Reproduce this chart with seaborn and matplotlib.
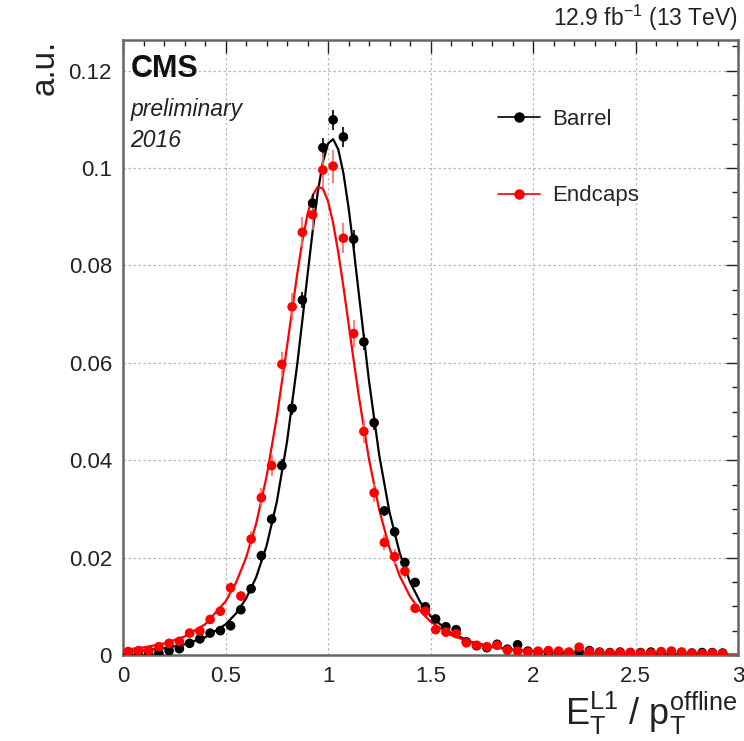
import numpy as np
import pandas as pd
import matplotlib
matplotlib.use("Agg")
import matplotlib.pyplot as plt
from matplotlib.lines import Line2D
from matplotlib.ticker import MultipleLocator
import seaborn as sns

# ---------------- data ----------------
bin_centers = [0.025, 0.075, 0.125, 0.175, 0.225, 0.275, 0.325, 0.375, 0.425, 0.475,
               0.525, 0.575, 0.625, 0.675, 0.725, 0.775, 0.825, 0.875, 0.925, 0.975,
               1.025, 1.075, 1.125, 1.175, 1.225, 1.275, 1.325, 1.375, 1.425, 1.475,
               1.525, 1.575, 1.625, 1.675, 1.725, 1.775, 1.825, 1.875, 1.925, 1.975,
               2.025, 2.075, 2.125, 2.175, 2.225, 2.275, 2.325, 2.375, 2.425, 2.475,
               2.525, 2.575, 2.625, 2.675, 2.725, 2.775, 2.825, 2.875, 2.925, 2.975]

barrel = [0.0001, 0.0002, 0.0002, 0.0004, 0.0009, 0.0013, 0.0024, 0.0033, 0.0045, 0.0050,
          0.0060, 0.0093, 0.0136, 0.0204, 0.0279, 0.0389, 0.0507, 0.0729, 0.0928, 0.1042,
          0.1099, 0.1064, 0.0854, 0.0643, 0.0477, 0.0296, 0.0253, 0.0190, 0.0149, 0.0099,
          0.0074, 0.0058, 0.0052, 0.0027, 0.0019, 0.0015, 0.0022, 0.0012, 0.0021, 0.0008,
          0.0006, 0.0005, 0.0006, 0.0005, 0.0007, 0.0009, 0.0006, 0.0005, 0.0006, 0.0005,
          0.0005, 0.0006, 0.0005, 0.0006, 0.0005, 0.0004, 0.0005, 0.0005, 0.0004, np.nan]

barrel_err = [0.0001, 0.0001, 0.0001, 0.0002, 0.0003, 0.0003, 0.0004, 0.0005, 0.0005, 0.0006,
              0.0006, 0.0007, 0.0008, 0.0010, 0.0011, 0.0013, 0.0014, 0.0017, 0.0019, 0.0020,
              0.0021, 0.0020, 0.0018, 0.0016, 0.0014, 0.0011, 0.0010, 0.0009, 0.0008, 0.0007,
              0.0006, 0.0005, 0.0005, 0.0004, 0.0003, 0.0003, 0.0003, 0.0003, 0.0003, 0.0002,
              0.0002, 0.0002, 0.0002, 0.0002, 0.0002, 0.0002, 0.0002, 0.0002, 0.0002, 0.0002,
              0.0002, 0.0002, 0.0002, 0.0002, 0.0002, 0.0002, 0.0002, 0.0002, 0.0002, 0.0]

endcaps = [0.0007, 0.0009, 0.0009, 0.0017, 0.0024, 0.0028, 0.0045, 0.0049, 0.0073, 0.0090,
           0.0138, 0.0121, 0.0238, 0.0323, 0.0389, 0.0597, 0.0715, 0.0868, 0.0904, 0.0996,
           0.1004, 0.0856, 0.0660, 0.0459, 0.0333, 0.0231, 0.0202, 0.0172, 0.0096, 0.0090,
           0.0052, 0.0047, 0.0044, 0.0025, 0.0020, 0.0017, 0.0020, 0.0010, 0.0008, 0.0006,
           0.0008, 0.0009, 0.0008, 0.0006, 0.0016, 0.0007, 0.0005, 0.0004, 0.0005, 0.0005,
           0.0004, 0.0004, 0.0007, 0.0008, 0.0006, 0.0004, 0.0003, 0.0004, 0.0003, np.nan]

endcaps_err = [0.0003, 0.0003, 0.0003, 0.0004, 0.0005, 0.0005, 0.0007, 0.0007, 0.0009, 0.0010,
               0.0012, 0.0011, 0.0016, 0.0019, 0.0021, 0.0026, 0.0028, 0.0031, 0.0032, 0.0034,
               0.0034, 0.0031, 0.0027, 0.0023, 0.0019, 0.0016, 0.0015, 0.0014, 0.0010, 0.0010,
               0.0007, 0.0007, 0.0007, 0.0005, 0.0005, 0.0004, 0.0005, 0.0003, 0.0003, 0.0003,
               0.0003, 0.0003, 0.0003, 0.0003, 0.0004, 0.0003, 0.0002, 0.0002, 0.0002, 0.0002,
               0.0002, 0.0002, 0.0003, 0.0003, 0.0002, 0.0002, 0.0002, 0.0002, 0.0002, 0.0]

# fitted curves, values
fit_x = [0.0, 0.1, 0.2, 0.3, 0.4, 0.5, 0.55, 0.6, 0.65, 0.7, 0.75, 0.8, 0.85, 0.875,
         0.9, 0.925, 0.95, 0.975, 1.0, 1.025, 1.05, 1.075, 1.1, 1.125, 1.15, 1.2, 1.25,
         1.3, 1.35, 1.4, 1.45, 1.5, 1.6, 1.7, 1.8, 1.9, 2.0, 2.2, 2.4, 2.6, 2.8, 3.0]

barrel_fit = [0.00063, 0.00092, 0.00139, 0.00219, 0.00361, 0.00628, 0.00847, 0.01157,
              0.01601, 0.02237, 0.03139, 0.04377, 0.05974, 0.06876, 0.07803, 0.08701,
              0.09500, 0.10123, 0.10504, 0.10594, 0.10384, 0.09900, 0.09198, 0.08351,
              0.07433, 0.05629, 0.04100, 0.02933, 0.02092, 0.01499, 0.01086, 0.00797,
              0.00448, 0.00266, 0.00166, 0.00108, 0.00073, 0.00037, 0.00020, 0.00012,
              0.00008, 0.00005]

endcaps_fit = [0.00105, 0.00155, 0.00237, 0.00378, 0.00629, 0.01098, 0.01473, 0.01992,
               0.02704, 0.03658, 0.04881, 0.06329, 0.07829, 0.08500, 0.09052, 0.09437,
               0.09618, 0.09578, 0.09320, 0.08870, 0.08269, 0.07568, 0.06816, 0.06058,
               0.05325, 0.04020, 0.02980, 0.02196, 0.01621, 0.01205, 0.00904, 0.00686,
               0.00409, 0.00255, 0.00165, 0.00111, 0.00077, 0.00040, 0.00023, 0.00014,
               0.00009, 0.00006]

series_names = ["Barrel", "Endcaps"]
series_colors = ["black", "#ff0000"]

# ---------------- styling ----------------
sns.set_theme(style="white")
plt.rcParams["font.family"] = ["Liberation Sans", "DejaVu Sans"]
plt.rcParams["mathtext.fontset"] = "custom"
plt.rcParams["mathtext.rm"] = "Liberation Sans"
plt.rcParams["mathtext.it"] = "Liberation Sans:italic"
plt.rcParams["mathtext.bf"] = "Liberation Sans:bold"

fig = plt.figure(figsize=(7.44, 7.41), dpi=100)
ax = fig.add_axes([123 / 744, 86 / 741, 615 / 744, 615 / 741])

pts = pd.DataFrame({
    "x": bin_centers * 2,
    "y": barrel + endcaps,
    "err": barrel_err + endcaps_err,
    "series": ["Barrel"] * len(bin_centers) + ["Endcaps"] * len(bin_centers),
})
fits = pd.DataFrame({
    "x": fit_x * 2,
    "y": barrel_fit + endcaps_fit,
    "series": ["Barrel"] * len(fit_x) + ["Endcaps"] * len(fit_x),
})
palette = dict(zip(series_names, series_colors))

# error bars
for name, col in palette.items():
    sub = pts[pts["series"] == name].dropna()
    err_col = col if name == "Barrel" else "#ff6a6a"
    ax.errorbar(sub["x"], sub["y"], yerr=sub["err"], fmt="none",
                ecolor=err_col, elinewidth=1.2, capsize=0, zorder=3)

# fit lines
sns.lineplot(data=fits, x="x", y="y", hue="series", palette=palette,
             linewidth=1.6, legend=False, ax=ax, zorder=2, sort=False)

# markers
sns.scatterplot(data=pts.dropna(), x="x", y="y", hue="series", palette=palette,
                s=48, linewidth=0, legend=False, ax=ax, zorder=4)

ax.set_xlim(0, 3)
ax.set_ylim(0, 0.1263)

ax.xaxis.set_major_locator(MultipleLocator(0.5))
ax.xaxis.set_minor_locator(MultipleLocator(0.1))
ax.yaxis.set_major_locator(MultipleLocator(0.02))
ax.yaxis.set_minor_locator(MultipleLocator(0.005))
ax.set_xticks([0, 0.5, 1, 1.5, 2, 2.5, 3])
ax.set_xticklabels(["0", "0.5", "1", "1.5", "2", "2.5", "3"])
ax.set_yticks([0, 0.02, 0.04, 0.06, 0.08, 0.1, 0.12])
ax.set_yticklabels(["0", "0.02", "0.04", "0.06", "0.08", "0.1", "0.12"])

ax.tick_params(which="both", direction="in", top=True, right=True,
               labelsize=16, colors="#222222", pad=8)
ax.tick_params(which="major", length=9, width=1.0)
ax.tick_params(which="minor", length=4.5, width=1.0)
for sp in ax.spines.values():
    sp.set_color("#666666")
    sp.set_linewidth(1.8)

ax.grid(True, which="major", linestyle=(0, (2, 2)), color="#b8b8b8", linewidth=0.9)
ax.set_axisbelow(True)

ax.set_xlabel(r"$\mathregular{E_{T}^{L1}\ /\ p_{T}^{offline}}$", fontsize=26,
              loc="right", labelpad=2, color="#222222")
ax.set_ylabel("a.u.", fontsize=24, loc="top", labelpad=6, color="#222222")

# legend
handles = [Line2D([0], [0], color=c, marker="o", markersize=6.5, linewidth=1.2)
           for c in series_colors]
ax.legend(handles, series_names, loc="upper left", bbox_to_anchor=(0.61, 0.888),
          frameon=False, fontsize=16, handlelength=1.9, handletextpad=0.55,
          labelspacing=2.5, borderpad=0, borderaxespad=0)

# CMS labels
ax.text(0.012, 0.977, "CMS", transform=ax.transAxes, fontsize=22, fontweight="bold",
        va="top", ha="left", color="#111111")
ax.text(0.012, 0.905, "preliminary", transform=ax.transAxes, fontsize=16.5, style="italic",
        va="top", ha="left", color="#222222")
ax.text(0.012, 0.855, "2016", transform=ax.transAxes, fontsize=16.5, style="italic",
        va="top", ha="left", color="#222222")
ax.text(1.0, 1.012, r"12.9 fb$^{\mathregular{-1}}$ (13 TeV)", transform=ax.transAxes,
        fontsize=16.5, va="bottom", ha="right", color="#222222")

fig.savefig("out.png", dpi=100)
